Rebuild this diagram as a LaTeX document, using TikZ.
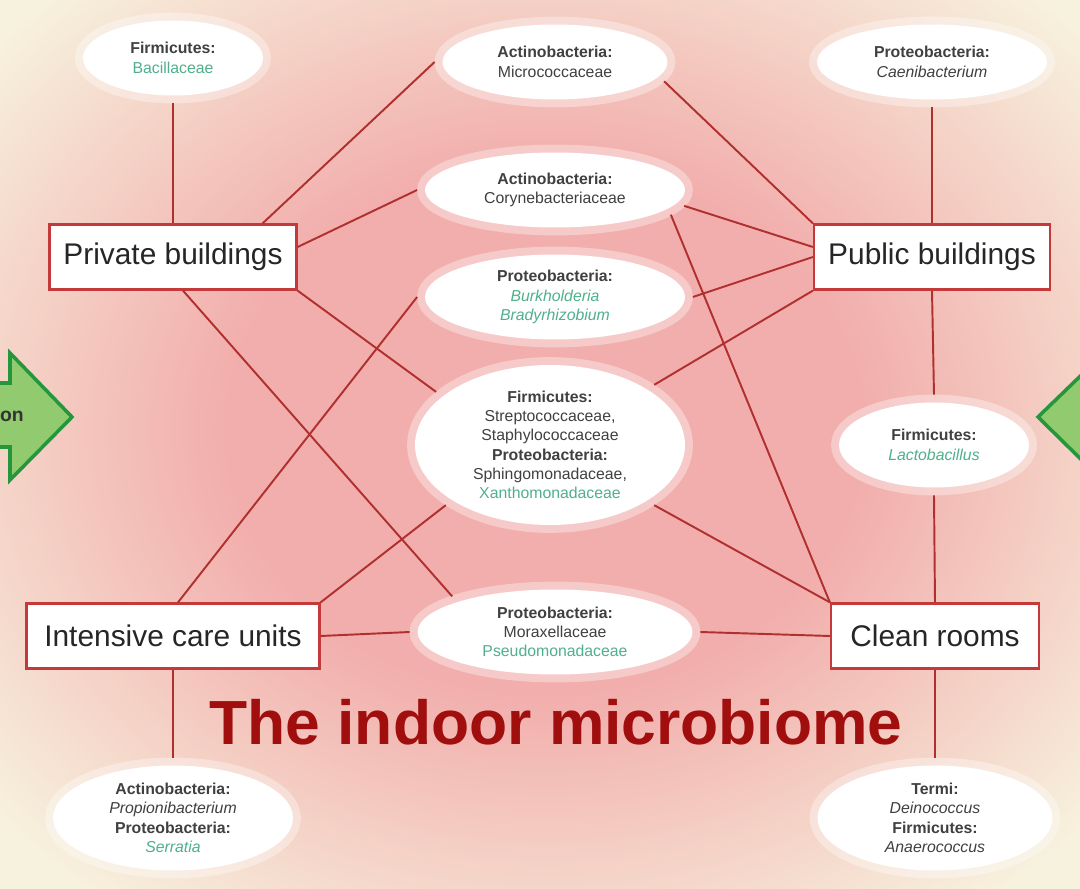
\documentclass[tikz,border=0pt]{standalone}
\usepackage{fontspec}
\setmainfont{Liberation Sans}
\usetikzlibrary{shapes.geometric}
\definecolor{creamc}{RGB}{247,242,222}
\definecolor{pinkc}{RGB}{242,174,172}
\definecolor{boxred}{RGB}{196,58,58}
\definecolor{linkred}{RGB}{176,48,48}
\definecolor{titlered}{RGB}{160,14,14}
\definecolor{taxgreen}{RGB}{80,176,140}
\definecolor{arrowfill}{RGB}{146,202,112}
\definecolor{arrowline}{RGB}{36,150,60}
\pgfdeclareradialshading{roomglow}{\pgfpoint{0bp}{0bp}}{color(0bp)=(pinkc); color(11bp)=(pinkc); color(25bp)=(creamc); color(50bp)=(creamc)}
\newcommand\phy[1]{\textbf{#1}}
\newcommand\grn[1]{\textcolor{taxgreen}{#1}}
\tikzset{
  site/.style={draw=boxred, line width=1.3pt, fill=white, minimum height=1.3cm,
    inner sep=0pt, font=\fontsize{17}{20}\selectfont, text=black!85},
  taxon/.style={ellipse, fill=white, draw=white, draw opacity=0.35, line width=9pt,
    align=center, inner sep=0pt, font=\fontsize{9}{11}\selectfont, text=black!75},
  link/.style={draw=linkred, line width=1.1pt},
}
\begin{document}
\begin{tikzpicture}[x={(0.02cm,0)},y={(0,-0.02cm)}]
  \useasboundingbox (0,0) rectangle (1080,889);
  \clip (0,0) rectangle (1080,889);
  % background
  \fill[creamc] (0,0) rectangle (1080,889);
  \shade[shading=roomglow] (545,430) ellipse [x radius=14.5cm, y radius=12cm];

  % side arrows
  \draw[arrowline, fill=arrowfill, line width=2pt, line join=miter]
    (-10,383) -- (10,383) -- (10,353) -- (72,417) -- (10,480) -- (10,447) -- (-10,447) -- cycle;
  \draw[arrowline, fill=arrowfill, line width=2pt, line join=miter]
    (1100,357) -- (1038,417) -- (1100,478) -- cycle;
  \node[anchor=east, font=\fontsize{11}{13}\selectfont\bfseries, text=black!80] (on) at (30,416) {on};

  % sites
  \node[site, minimum width=4.94cm] (priv) at (173,257) {Private buildings};
  \node[site, minimum width=4.72cm] (pub) at (932,257) {Public buildings};
  \node[site, minimum width=5.86cm] (icu) at (173,636) {Intensive care units};
  \node[site, minimum width=4.16cm] (clean) at (935,636) {Clean rooms};

  % taxa
  \node[taxon, minimum width=3.6cm, minimum height=1.5cm] (bac) at (173,58)
    {\phy{Firmicutes:}\\\grn{Bacillaceae}};
  \node[taxon, minimum width=4.5cm, minimum height=1.5cm] (micro) at (555,62)
    {\phy{Actinobacteria:}\\Micrococcaceae};
  \node[taxon, minimum width=4.6cm, minimum height=1.5cm] (caen) at (932,62)
    {\phy{Proteobacteria:}\\\textit{Caenibacterium}};
  \node[taxon, minimum width=5.2cm, minimum height=1.5cm] (coryne) at (555,190)
    {\phy{Actinobacteria:}\\Corynebacteriaceae};
  \node[taxon, minimum width=5.2cm, minimum height=1.7cm] (burk) at (555,297)
    {\phy{Proteobacteria:}\\\grn{\textit{Burkholderia}}\\\grn{\textit{Bradyrhizobium}}};
  \node[taxon, minimum width=5.4cm, minimum height=3.2cm] (cent) at (550,445)
    {\phy{Firmicutes:}\\Streptococcaceae,\\Staphylococcaceae\\\phy{Proteobacteria:}\\Sphingomonadaceae,\\\grn{Xanthomonadaceae}};
  \node[taxon, minimum width=3.8cm, minimum height=1.7cm] (lacto) at (934,445)
    {\phy{Firmicutes:}\\\grn{\textit{Lactobacillus}}};
  \node[taxon, minimum width=5.5cm, minimum height=1.7cm] (morax) at (555,632)
    {\phy{Proteobacteria:}\\Moraxellaceae\\\grn{Pseudomonadaceae}};
  \node[taxon, minimum width=4.8cm, minimum height=2.1cm] (botl) at (173,818)
    {\phy{Actinobacteria:}\\\textit{Propionibacterium}\\\phy{Proteobacteria:}\\\grn{\textit{Serratia}}};
  \node[taxon, minimum width=4.7cm, minimum height=2.1cm] (botr) at (935,818)
    {\phy{Termi:}\\\textit{Deinococcus}\\\phy{Firmicutes:}\\\textit{Anaerococcus}};

  % links
  \draw[link] (bac.south) -- (priv.north);
  \draw[link] (priv.north east) ++(-35,0) -- (micro.west);
  \draw[link] (priv.east) ++(0,-10) -- (coryne.west);
  \draw[link] (priv.south east) -- (cent.155);
  \draw[link] (priv.south) ++(10,0) -- (morax.north west);
  \draw[link] (micro.-10) -- (pub.north west);
  \draw[link] (coryne.-7) -- ([yshift=0.2cm]pub.west);
  \draw[link] (burk.east) -- (pub.west);
  \draw[link] (cent.30) -- (pub.south west);
  \draw[link] (caen.south) -- (pub.north);
  \draw[link] (pub.south) -- (lacto.north);
  \draw[link] (lacto.south) -- (clean.north);
  \draw[link] (coryne.-12) -- (clean.north west);
  \draw[link] (cent.-30) -- (clean.north west);
  \draw[link] (morax.east) -- (clean.west);
  \draw[link] (icu.east) -- (morax.west);
  \draw[link] (icu.north) ++(5,0) -- (burk.west);
  \draw[link] (icu.north east) -- (cent.210);
  \draw[link] (icu.south) -- (botl.north);
  \draw[link] (clean.south) -- (botr.north);

  % title
  \node[font=\fontsize{35.5}{40}\selectfont\bfseries, text=titlered] (title) at (556,722) {The indoor microbiome};
\end{tikzpicture}
\end{document}
